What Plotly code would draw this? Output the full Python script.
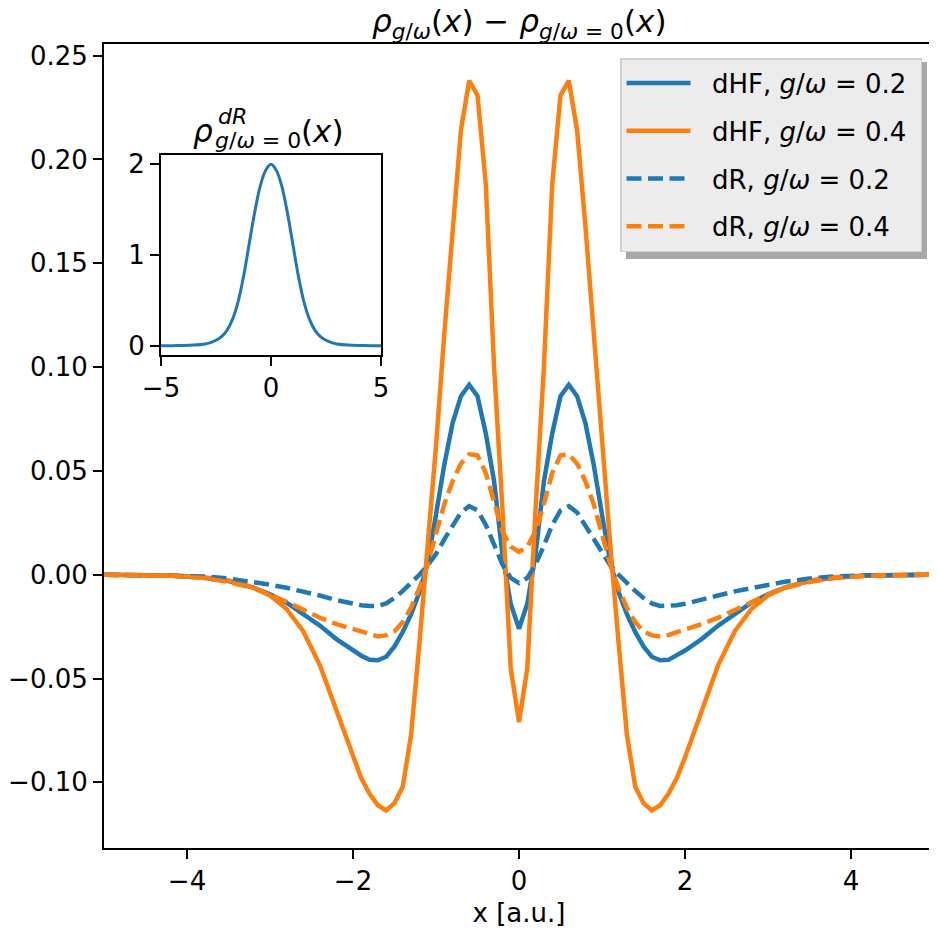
import plotly.graph_objects as go

# ---------------- data ----------------
x_grid = [-5.0, -4.6, -4.2, -3.8, -3.5, -3.2, -3.0, -2.8, -2.6, -2.4, -2.2, -2.0,
          -1.9, -1.8, -1.7, -1.6, -1.5, -1.4, -1.3, -1.2, -1.1, -1.0, -0.9, -0.8,
          -0.7, -0.6, -0.5, -0.4, -0.3, -0.2, -0.1, 0.0, 0.1, 0.2, 0.3, 0.4, 0.5,
          0.6, 0.7, 0.8, 0.9, 1.0, 1.1, 1.2, 1.3, 1.4, 1.5, 1.6, 1.7, 1.8, 1.9,
          2.0, 2.2, 2.4, 2.6, 2.8, 3.0, 3.2, 3.5, 3.8, 4.2, 4.6, 5.0]

dhf_02 = [0.0000, -0.0001, -0.0004, -0.0014, -0.0030, -0.0062, -0.0094, -0.0135, -0.0190, -0.0245,
          -0.0310, -0.0365, -0.0390, -0.0410, -0.0412, -0.0395, -0.0345, -0.0275, -0.0190, -0.0085,
          0.0060, 0.0290, 0.0530, 0.0730, 0.0860, 0.0915, 0.0860, 0.0680, 0.0450, 0.0100, -0.0140,
          -0.0260,
          -0.0140, 0.0100, 0.0450, 0.0680, 0.0860, 0.0915, 0.0860, 0.0730, 0.0530, 0.0290, 0.0060,
          -0.0085, -0.0190, -0.0275, -0.0345, -0.0395, -0.0412, -0.0410, -0.0390, -0.0365, -0.0310,
          -0.0245, -0.0190, -0.0135, -0.0094, -0.0062, -0.0030, -0.0014, -0.0004, -0.0001, 0.0000]

dhf_04 = [0.0000, -0.0001, -0.0004, -0.0012, -0.0028, -0.0062, -0.0100, -0.0165, -0.0272, -0.0435,
          -0.0650, -0.0880, -0.0980, -0.1055, -0.1110, -0.1135, -0.1100, -0.1020, -0.0770, -0.0330,
          0.0140, 0.0620, 0.1160, 0.1680, 0.2140, 0.2380, 0.2310, 0.1880, 0.1000, 0.0320, -0.0450,
          -0.0710,
          -0.0450, 0.0320, 0.1000, 0.1880, 0.2310, 0.2380, 0.2140, 0.1680, 0.1160, 0.0620, 0.0140,
          -0.0330, -0.0770, -0.1020, -0.1100, -0.1135, -0.1110, -0.1055, -0.0980, -0.0880, -0.0650,
          -0.0435, -0.0272, -0.0165, -0.0100, -0.0062, -0.0028, -0.0012, -0.0004, -0.0001, 0.0000]

dr_02 = [0.0000, -0.0001, -0.0003, -0.0008, -0.0018, -0.0034, -0.0048, -0.0063, -0.0080, -0.0100,
         -0.0122, -0.0140, -0.0147, -0.0151, -0.0150, -0.0138, -0.0112, -0.0078, -0.0040, 0.0000,
         0.0045, 0.0100, 0.0170, 0.0235, 0.0300, 0.0330, 0.0310, 0.0240, 0.0140, 0.0050, -0.0015,
         -0.0040,
         -0.0015, 0.0050, 0.0140, 0.0240, 0.0310, 0.0330, 0.0300, 0.0235, 0.0170, 0.0100, 0.0045,
         0.0000, -0.0040, -0.0078, -0.0112, -0.0138, -0.0150, -0.0151, -0.0147, -0.0140, -0.0122,
         -0.0100, -0.0080, -0.0063, -0.0048, -0.0034, -0.0018, -0.0008, -0.0003, -0.0001, 0.0000]

dr_04 = [0.0000, -0.0001, -0.0005, -0.0016, -0.0035, -0.0064, -0.0095, -0.0130, -0.0168, -0.0207,
         -0.0238, -0.0262, -0.0278, -0.0290, -0.0297, -0.0292, -0.0272, -0.0228, -0.0158, -0.0065,
         0.0050, 0.0200, 0.0340, 0.0450, 0.0535, 0.0580, 0.0575, 0.0490, 0.0340, 0.0210, 0.0135,
         0.0110,
         0.0135, 0.0210, 0.0340, 0.0490, 0.0575, 0.0580, 0.0535, 0.0450, 0.0340, 0.0200, 0.0050,
         -0.0065, -0.0158, -0.0228, -0.0272, -0.0292, -0.0297, -0.0290, -0.0278, -0.0262, -0.0238,
         -0.0207, -0.0168, -0.0130, -0.0095, -0.0064, -0.0035, -0.0016, -0.0005, -0.0001, 0.0000]

inset_x = [-5.0, -4.5, -4.0, -3.5, -3.0, -2.75, -2.5, -2.25, -2.0, -1.75, -1.5, -1.25, -1.0,
           -0.75, -0.5, -0.25, 0.0, 0.25, 0.5, 0.75, 1.0, 1.25, 1.5, 1.75, 2.0, 2.25, 2.5,
           2.75, 3.0, 3.5, 4.0, 4.5, 5.0]
inset_rho0 = [0.0003, 0.001, 0.0025, 0.007, 0.02, 0.035, 0.06, 0.10, 0.17, 0.29, 0.48, 0.76,
              1.11, 1.46, 1.75, 1.93, 2.00, 1.93, 1.75, 1.46, 1.11, 0.76, 0.48, 0.29, 0.17, 0.10,
              0.06, 0.035, 0.02, 0.007, 0.0025, 0.001, 0.0003]

NB = "\u00a0"
series_names = [NB * 2 + "dHF, <i>g</i>/<i>ω</i> = 0.2" + NB,
                NB * 2 + "dHF, <i>g</i>/<i>ω</i> = 0.4" + NB,
                NB * 2 + "dR, <i>g</i>/<i>ω</i> = 0.2" + NB,
                NB * 2 + "dR, <i>g</i>/<i>ω</i> = 0.4" + NB]

main_xticks = [-4, -2, 0, 2, 4]
main_xticklabels = ["−4", "−2", "0", "2", "4"]
main_yticks = [-0.10, -0.05, 0.00, 0.05, 0.10, 0.15, 0.20, 0.25]
main_yticklabels = ["−0.10", "−0.05", "0.00", "0.05", "0.10", "0.15", "0.20", "0.25"]
inset_xticks = [-5, 0, 5]
inset_xticklabels = ["−5", "0", "5"]
inset_yticks = [0, 1, 2]
inset_yticklabels = ["0", "1", "2"]

# ---------------- styling ----------------
BLUE = "#1f77b4"
ORANGE = "#ff7f0e"
FONT = "DejaVu Sans"
W, H = 937, 935
OFF = 8                       # page body margin of the html page
PL, PR, PT, PB = 104, 934, 44, 848   # wanted plot-area edges in window pixels
ML, MT = PL - OFF, PT - OFF
MR = W - (PR - OFF)
MB = H - (PB - OFF)
PW, PH = PR - PL, PB - PT
FS = 26


def px_x(p):
    return (p - PL) / PW


def px_y(p):
    return (PB - p) / PH


fig = go.Figure()
styles = [(dhf_02, BLUE, "solid"), (dhf_04, ORANGE, "solid"),
          (dr_02, BLUE, "15px,6.5px"), (dr_04, ORANGE, "15px,6.5px")]
for i, (vals, col, dash) in enumerate(styles):
    fig.add_trace(go.Scatter(x=x_grid, y=vals, mode="lines", name=series_names[i],
                             legendgroup=f"g{i}",
                             line=dict(color=col, width=4.5, dash=dash)))

fig.add_trace(go.Scatter(x=inset_x, y=inset_rho0, mode="lines", showlegend=False,
                         xaxis="x2", yaxis="y2",
                         line=dict(color=BLUE, width=3, shape="spline", smoothing=0.8)))

axis_common = dict(showline=True, mirror=True, linecolor="black", linewidth=2,
                   ticks="outside", ticklen=9, tickwidth=2, tickcolor="black",
                   showgrid=False, zeroline=False, automargin=False,
                   tickfont=dict(size=FS, color="black"))

fig.update_layout(
    width=W, height=H,
    margin=dict(l=ML, r=MR, t=MT, b=MB),
    paper_bgcolor="white", plot_bgcolor="white",
    font=dict(family=FONT, size=FS, color="black"),
    xaxis=dict(range=[-5, 5], tickvals=main_xticks, ticktext=main_xticklabels,
               title=dict(text="x [a.u.]", font=dict(size=FS), standoff=9), **axis_common),
    yaxis=dict(range=[-0.1316, 0.2556], tickvals=main_yticks, ticktext=main_yticklabels,
               **axis_common),
    xaxis2=dict(domain=[px_x(161), px_x(381)], anchor="y2", range=[-5, 5],
                tickvals=inset_xticks, ticktext=inset_xticklabels, **axis_common),
    yaxis2=dict(domain=[px_y(354.8), px_y(155.2)], anchor="x2", range=[-0.1, 2.1],
                tickvals=inset_yticks, ticktext=inset_yticklabels, **axis_common),
    legend=dict(x=px_x(922), xanchor="right", y=px_y(58), yanchor="top",
                bgcolor="#ececec", bordercolor="#cfcfcf", borderwidth=1.5,
                font=dict(size=FS, family=FONT), tracegroupgap=11, itemwidth=64),
    showlegend=True,
)

# legend shadow
fig.add_shape(type="rect", xref="paper", yref="paper",
              x0=px_x(626), x1=px_x(927), y0=px_y(259), y1=px_y(62),
              fillcolor="#a8a8a8", line=dict(width=0), layer="above")

# main title
fig.add_annotation(xref="paper", yref="paper", x=0.5, y=1.0, xanchor="center",
                   yanchor="bottom", yshift=-2,
                   showarrow=False, font=dict(size=31, family=FONT),
                   text="<i>ρ</i><sub><i>g</i>/<i>ω</i></sub>(<i>x</i>) − "
                        "<i>ρ</i><sub><i>g</i>/<i>ω</i> = 0</sub>(<i>x</i>)")

# inset title pieces
inset_title = [("<i>ρ</i>", 31, 203, 131),
               ("<i>dR</i>", 22, 232, 117),
               ("<i>g</i>/<i>ω</i> = 0", 22, 258, 140),
               ("(<i>x</i>)", 31, 322, 131)]
for txt, size, px, py in inset_title:
    fig.add_annotation(xref="paper", yref="paper", x=px_x(px), y=px_y(py),
                       xanchor="center", yanchor="middle", showarrow=False,
                       font=dict(size=size, family=FONT), text=txt)

fig.write_html("out.html")
